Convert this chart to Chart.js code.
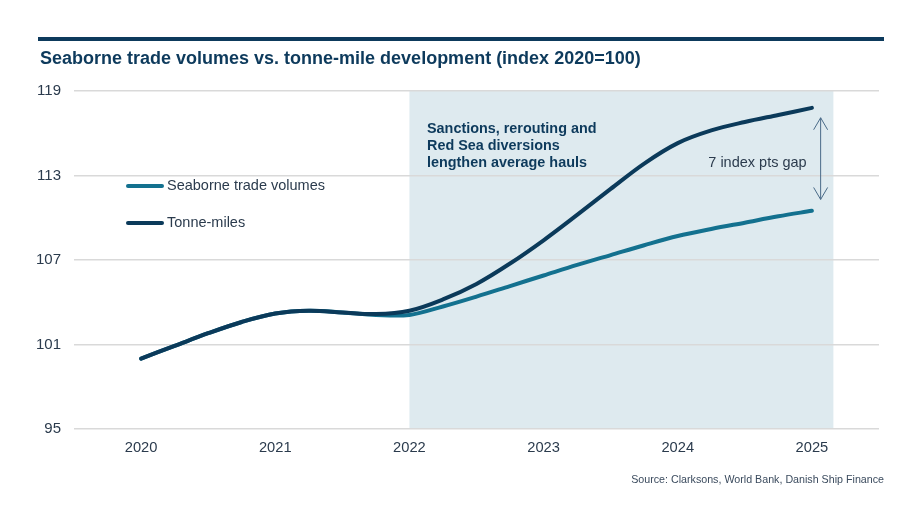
<!DOCTYPE html>
<html>
<head>
<meta charset="utf-8">
<script src="https://cdn.jsdelivr.net/npm/chart.js@4"></script>
<style>
  body { margin: 0; background: #fff; font-family: "Liberation Sans", Arial, sans-serif; }
  #wrap { position: relative; width: 916px; height: 513px; }
  #rule { position: absolute; left: 38px; top: 37px; width: 846px; height: 4px; background: #0d3a5c; }
  #title { position: absolute; left: 40px; top: 48px; font-size: 18px; font-weight: bold; color: #0d3a5c; white-space: nowrap; }
  #source { position: absolute; right: 32px; top: 473px; font-size: 10.7px; color: #3b4b5e; white-space: nowrap; }
  canvas { position: absolute; left: 0; top: 0; }
</style>
</head>
<body>
<div id="wrap">
  <canvas id="chart" width="916" height="513"></canvas>
  <div id="rule"></div>
  <div id="title">Seaborne trade volumes vs. tonne-mile development (index 2020=100)</div>
  <div id="source">Source: Clarksons, World Bank, Danish Ship Finance</div>
</div>
<script>
// quarterly points
const periods = [2020, 2020.25, 2020.5, 2020.75, 2021, 2021.25, 2021.5, 2021.75, 2022, 2022.25, 2022.5, 2022.75,
  2023, 2023.25, 2023.5, 2023.75, 2024, 2024.25, 2024.5, 2024.75, 2025];
const tradeVolumes = [100.0, 100.9, 101.8, 102.6, 103.2, 103.4, 103.28, 103.1, 103.1, 103.7, 104.4, 105.15,
  105.9, 106.65, 107.35, 108.05, 108.7, 109.2, 109.65, 110.1, 110.5];
const tonneMiles = [100.0, 100.9, 101.8, 102.6, 103.2, 103.4, 103.28, 103.16, 103.4, 104.2, 105.3, 106.75,
  108.4, 110.2, 112.05, 113.85, 115.3, 116.2, 116.8, 117.3, 117.8];

const yearTicks = [2020, 2021, 2022, 2023, 2024, 2025];
const indexTicks = [95, 101, 107, 113, 119];

const shadeFrom = 2022;
const shadeTo = 2025.16;
const gapFrom = 117.1;
const gapTo = 111.3;

const navy = '#0b3a5a';
const teal = '#13718f';
const textCol = '#2b3b4d';
const fontFam = '"Liberation Sans", Arial, sans-serif';

const toPoints = (vals) => vals.map((v, i) => ({ x: periods[i], y: v }));

const shadePlugin = {
  id: 'shade',
  beforeDraw(chart) {
    const { ctx, chartArea, scales } = chart;
    const x0 = scales.x.getPixelForValue(shadeFrom);
    const x1 = scales.x.getPixelForValue(shadeTo);
    ctx.save();
    ctx.fillStyle = '#deeaef';
    ctx.fillRect(x0, chartArea.top, x1 - x0, chartArea.bottom - chartArea.top);
    ctx.restore();
  },
};

const notesPlugin = {
  id: 'notes',
  afterDraw(chart) {
    const { ctx, scales } = chart;
    const { x, y } = scales;
    ctx.save();

    // legend inside the plot
    const legend = [
      { label: 'Seaborne trade volumes', color: teal, top: 186 },
      { label: 'Tonne-miles', color: navy, top: 223 },
    ];
    ctx.lineWidth = 4;
    ctx.lineCap = 'round';
    ctx.font = '14.5px ' + fontFam;
    ctx.textBaseline = 'middle';
    legend.forEach((item) => {
      ctx.strokeStyle = item.color;
      ctx.beginPath();
      ctx.moveTo(128, item.top);
      ctx.lineTo(162, item.top);
      ctx.stroke();
      ctx.fillStyle = textCol;
      ctx.fillText(item.label, 167, item.top);
    });

    // shaded area note
    ctx.font = 'bold 14.4px ' + fontFam;
    ctx.fillStyle = '#0d3a5c';
    ['Sanctions, rerouting and', 'Red Sea diversions', 'lengthen average hauls'].forEach((t, i) => {
      ctx.fillText(t, 427, 129.5 + i * 17);
    });

    // gap arrow
    const ax = x.getPixelForValue(2025.065);
    const ay0 = y.getPixelForValue(gapFrom);
    const ay1 = y.getPixelForValue(gapTo);
    ctx.strokeStyle = '#4a6a88';
    ctx.lineWidth = 1;
    ctx.lineCap = 'butt';
    ctx.beginPath();
    ctx.moveTo(ax, ay0);
    ctx.lineTo(ax, ay1);
    ctx.moveTo(ax - 7, ay0 + 12);
    ctx.lineTo(ax, ay0);
    ctx.lineTo(ax + 7, ay0 + 12);
    ctx.moveTo(ax - 7, ay1 - 12);
    ctx.lineTo(ax, ay1);
    ctx.lineTo(ax + 7, ay1 - 12);
    ctx.stroke();

    ctx.font = '14.5px ' + fontFam;
    ctx.fillStyle = textCol;
    ctx.textAlign = 'right';
    ctx.fillText('7 index pts gap', ax - 14, y.getPixelForValue(113.9));
    ctx.restore();
  },
};

new Chart(document.getElementById('chart'), {
  type: 'line',
  data: {
    datasets: [
      {
        label: 'Tonne-miles',
        data: toPoints(tonneMiles),
        borderColor: navy,
        borderWidth: 4,
        pointRadius: 0,
        tension: 0.35,
        borderCapStyle: 'round',
      },
      {
        label: 'Seaborne trade volumes',
        data: toPoints(tradeVolumes),
        borderColor: teal,
        borderWidth: 4,
        pointRadius: 0,
        tension: 0.35,
        borderCapStyle: 'round',
      },
    ],
  },
  options: {
    responsive: false,
    animation: false,
    layout: { padding: { top: 91, right: 37, bottom: 44, left: 0 } },
    plugins: { legend: { display: false }, tooltip: { enabled: false } },
    scales: {
      x: {
        type: 'linear',
        min: 2019.5,
        max: 2025.5,
        afterFit: (s) => { s.height = 40; },
        afterBuildTicks: (s) => { s.ticks = yearTicks.map((v) => ({ value: v })); },
        grid: { display: false, drawTicks: false },
        border: { display: false },
        ticks: {
          padding: 10,
          color: textCol,
          font: { size: 14.7, family: fontFam },
          callback: (v) => String(v),
        },
      },
      y: {
        min: 95,
        max: 119,
        afterFit: (s) => { s.width = 74; },
        afterBuildTicks: (s) => { s.ticks = indexTicks.map((v) => ({ value: v })); },
        grid: { color: '#d9d9d9', lineWidth: 1.5, drawTicks: false },
        border: { display: false },
        ticks: {
          padding: 13,
          color: textCol,
          font: { size: 15, family: fontFam },
        },
      },
    },
  },
  plugins: [shadePlugin, notesPlugin],
});
</script>
</body>
</html>
